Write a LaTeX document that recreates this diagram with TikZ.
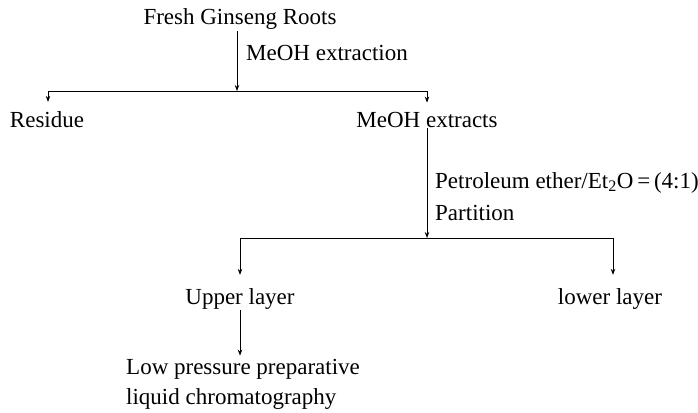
\documentclass[tikz,border=0pt]{standalone}
\usepackage{fontspec}
\setmainfont{Liberation Serif}
\usetikzlibrary{arrows.meta}
\tikzset{
  lbl/.style={font=\fontsize{23}{28}\selectfont, inner sep=1pt, text=black},
  ln/.style={draw=black, line width=0.8pt},
  arr/.style={ln, -{Stealth[length=6pt,width=4.5pt]}},
}
\begin{document}
\begin{tikzpicture}[x=1pt,y=-1pt]
\useasboundingbox (0,0) rectangle (698,412);
% nodes
\node[lbl, anchor=base] (fresh) at (240,25) {Fresh Ginseng Roots};
\node[lbl, anchor=base west] (lab1) at (245,60) {MeOH extraction};
\node[lbl, anchor=base] (res) at (47,127) {Residue};
\node[lbl, anchor=base] (ext) at (427,127) {MeOH extracts};
\node[lbl, anchor=base west] (lab2) at (434,188) {Petroleum ether/Et\textsubscript{2}O\,=\,(4:1)};
\node[lbl, anchor=base west] (lab3) at (434,220) {Partition};
\node[lbl, anchor=base] (up) at (240,304) {Upper layer};
\node[lbl, anchor=base] (low) at (610,304) {lower layer};
\node[lbl, anchor=base west] (lp1) at (125,374) {Low pressure preparative};
\node[lbl, anchor=base west] (lp2) at (125,404) {liquid chromatography};
% junctions
\coordinate (j1) at (237,91);
\coordinate (j2) at (427,238);
\coordinate (cres) at (48,91);
\coordinate (cup) at (240,238);
\coordinate (clow) at (613,238);
% connectors
\draw[arr] (fresh.south -| j1) -- (j1);
\draw[ln] (cres) -- (ext.north |- j1);
\draw[arr, shorten >=8pt] (cres) -- (cres |- res.north);
\draw[arr, shorten >=8pt] (ext.north |- j1) -- (ext.north);
\draw[arr] (ext.south) -- (j2);
\draw[ln] (cup) -- (clow);
\draw[arr, shorten >=12pt] (cup) -- (cup |- up.north);
\draw[arr, shorten >=12pt] (clow) -- (clow |- low.north);
\draw[arr, shorten >=2pt] (up.south) -- (up.south |- lp1.north);
\end{tikzpicture}
\end{document}
